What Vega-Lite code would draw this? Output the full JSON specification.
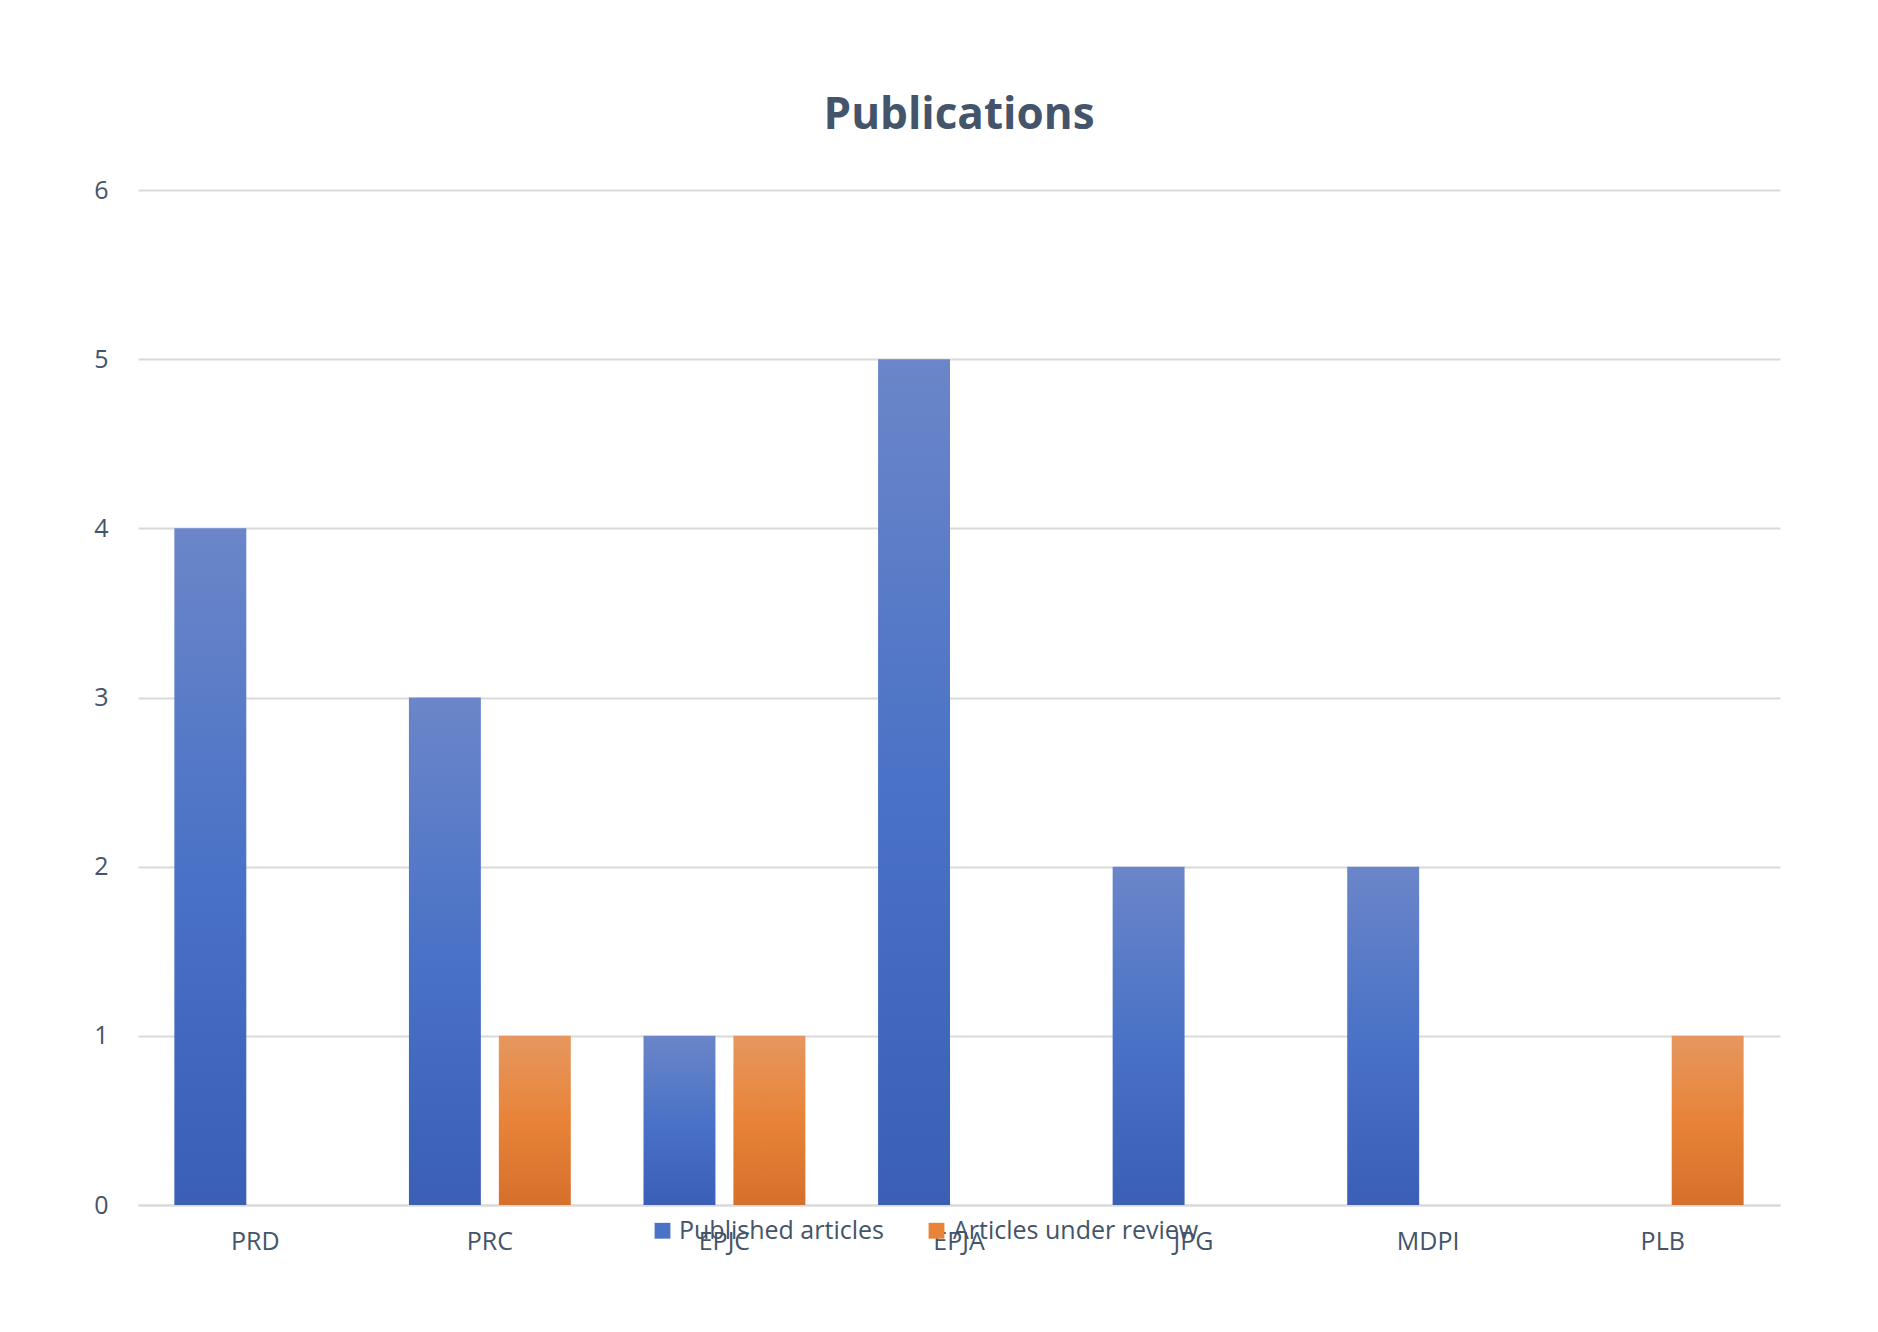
{
  "$schema": "https://vega.github.io/schema/vega-lite/v6.json",
  "width": 1878,
  "height": 1332,
  "autosize": {"type": "fit", "contains": "padding"},
  "padding": {"left": 93, "right": 98, "top": 94, "bottom": 78},
  "background": "white",
  "title": {"text": "Publications", "fontSize": 44, "font": "Open Sans", "fontWeight": "bold", "color": "#44546a", "offset": 40},
  "data": {
    "values": [
      {"journal": "PRD", "series": "Published articles", "count": 4},
      {"journal": "PRD", "series": "Articles under review", "count": 0},
      {"journal": "PRC", "series": "Published articles", "count": 3},
      {"journal": "PRC", "series": "Articles under review", "count": 1},
      {"journal": "EPJC", "series": "Published articles", "count": 1},
      {"journal": "EPJC", "series": "Articles under review", "count": 1},
      {"journal": "EPJA", "series": "Published articles", "count": 5},
      {"journal": "EPJA", "series": "Articles under review", "count": 0},
      {"journal": "JPG", "series": "Published articles", "count": 2},
      {"journal": "JPG", "series": "Articles under review", "count": 0},
      {"journal": "MDPI", "series": "Published articles", "count": 2},
      {"journal": "MDPI", "series": "Articles under review", "count": 0},
      {"journal": "PLB", "series": "Published articles", "count": 0},
      {"journal": "PLB", "series": "Articles under review", "count": 1}
    ]
  },
  "encoding": {
    "x": {"field": "journal", "type": "nominal", "sort": null, "scale": {"paddingInner": 0.31, "paddingOuter": 0.155},
      "axis": {"title": null, "labelAngle": 0, "labelFontSize": 25, "labelFont": "Open Sans", "labelColor": "#44546a", "ticks": false, "labelPadding": 24, "domainColor": "#d9d9d9", "domainWidth": 2}},
    "xOffset": {"field": "series", "type": "nominal", "sort": ["Published articles", "Articles under review"], "scale": {"paddingInner": 0.2}},
    "y": {"field": "count", "type": "quantitative", "scale": {"domain": [0, 6]},
      "axis": {"title": null, "tickCount": 6, "labelFontSize": 25, "labelFont": "Open Sans", "labelColor": "#44546a", "ticks": false, "domain": false, "labelPadding": 30, "gridColor": "#d9d9d9", "gridWidth": 2}}
  },
  "layer": [
    {
      "transform": [{"filter": "datum.series === 'Published articles'"}],
      "mark": {"type": "bar", "color": {"gradient": "linear", "x1": 0, "y1": 0, "x2": 0, "y2": 1, "stops": [{"offset": 0, "color": "#6b86c9"}, {"offset": 0.5, "color": "#4a72c6"}, {"offset": 1, "color": "#3a5fb5"}]}}
    },
    {
      "transform": [{"filter": "datum.series === 'Articles under review'"}],
      "mark": {"type": "bar", "color": {"gradient": "linear", "x1": 0, "y1": 0, "x2": 0, "y2": 1, "stops": [{"offset": 0, "color": "#e6975f"}, {"offset": 0.5, "color": "#e88338"}, {"offset": 1, "color": "#d66f2c"}]}}
    },
    {
      "mark": {"type": "bar", "opacity": 0},
      "encoding": {
        "color": {"field": "series", "type": "nominal", "sort": ["Published articles", "Articles under review"],
          "scale": {"domain": ["Published articles", "Articles under review"], "range": ["#4a72c6", "#e88338"]},
          "legend": {"title": null, "orient": "none", "legendX": 512, "legendY": 1028, "direction": "horizontal", "symbolType": "square", "symbolSize": 250, "symbolOpacity": 1, "labelFontSize": 25, "labelFont": "Open Sans", "labelColor": "#44546a", "columnPadding": 40, "labelLimit": 400}}
      }
    }
  ],
  "config": {"view": {"stroke": null}}
}
